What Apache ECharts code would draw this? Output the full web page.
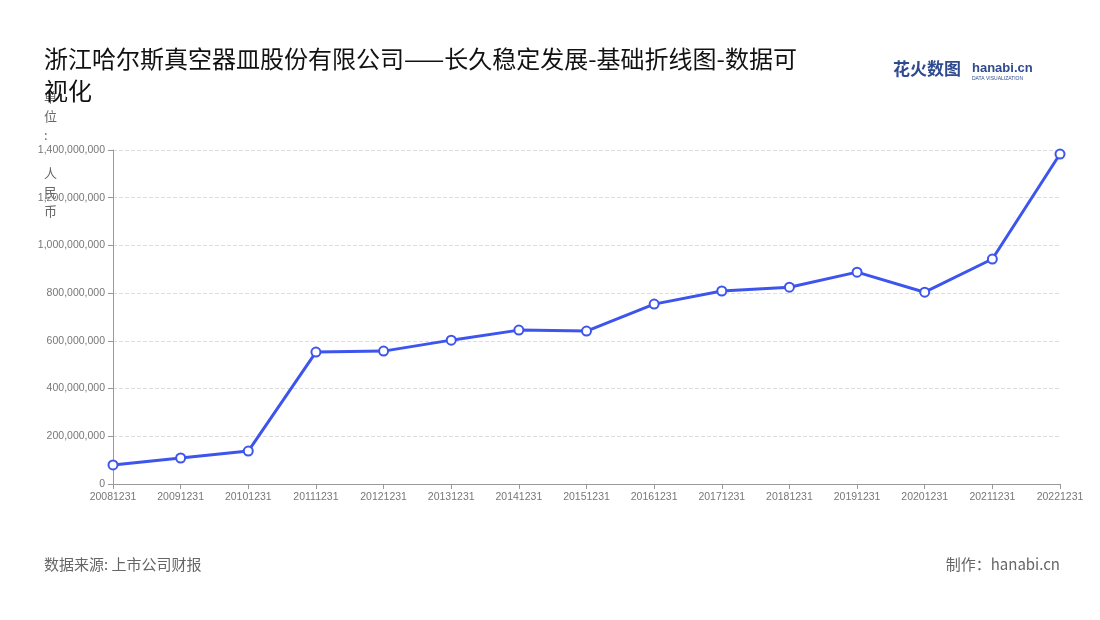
<!DOCTYPE html>
<html><head><meta charset="utf-8">
<script src="https://cdn.jsdelivr.net/npm/echarts@6/dist/echarts.min.js"></script>
<style>html,body{margin:0;padding:0;background:#fff}#c{width:1100px;height:620px}</style>
</head><body><div id="c"></div>
<script>
const categories = ['20081231','20091231','20101231','20111231','20121231','20131231','20141231','20151231','20161231','20171231','20181231','20191231','20201231','20211231','20221231'];
const values = [80000000,109000000,138000000,553000000,557000000,603000000,645000000,641000000,754000000,809000000,825000000,888000000,804000000,943000000,1383000000];
const chart = echarts.init(document.getElementById('c'));
chart.setOption({
  backgroundColor:'#fff',
  title:{text:'浙江哈尔斯真空器皿股份有限公司——长久稳定发展-基础折线图-数据可\n视化',left:39,top:38,textStyle:{fontSize:24,fontWeight:'normal',color:'#111',lineHeight:32,fontFamily:'Noto Sans CJK SC'}},
  graphic:[
    {type:'text',left:44,top:557,style:{text:'数据来源: 上市公司财报',fontSize:15,fill:'#666',fontFamily:'Noto Sans CJK SC'}},
    {type:'text',right:40,top:557,style:{text:'制作：hanabi.cn',fontSize:15,fill:'#666',fontFamily:'Noto Sans CJK SC'}},
    {type:'text',left:893,top:60,style:{text:'花火数图',fontSize:17,fontWeight:'bold',fill:'#2f4b8f',fontFamily:'Noto Sans CJK SC'}},
    {type:'text',left:972,top:62,style:{text:'hanabi.cn',fontSize:13,fontWeight:'bold',fill:'#2f4b8f'}},
    {type:'text',left:972,top:76,style:{text:'DATA VISUALIZATION',fontSize:5,fill:'#2f4b8f'}},
    {type:'text',left:44,top:88,style:{text:'单\n位\n:\n \n人\n民\n币',fontSize:13,fill:'#666',lineHeight:19,fontFamily:'Noto Sans CJK SC'}}
  ],
  grid:{left:113,right:40,top:150,bottom:136},
  xAxis:{type:'category',data:categories,boundaryGap:false,
    axisLine:{lineStyle:{color:'#999'}},axisTick:{show:true,alignWithLabel:true,lineStyle:{color:'#999'}},
    axisLabel:{color:'#777',fontSize:10.5,interval:0}},
  yAxis:{type:'value',min:0,max:1400000000,interval:200000000,
    axisLabel:{color:'#777',fontSize:10.5,formatter:v=>v.toLocaleString('en-US')},
    axisLine:{show:true,lineStyle:{color:'#999'}},axisTick:{show:true,lineStyle:{color:'#999'}},
    splitLine:{lineStyle:{type:'dashed',color:'#ddd'}}},
  series:[{type:'line',data:values,symbol:'circle',symbolSize:9,
    lineStyle:{color:'#3d55ec',width:3},
    itemStyle:{color:'#fff',borderColor:'#3d55ec',borderWidth:2}}]
});
</script></body></html>
